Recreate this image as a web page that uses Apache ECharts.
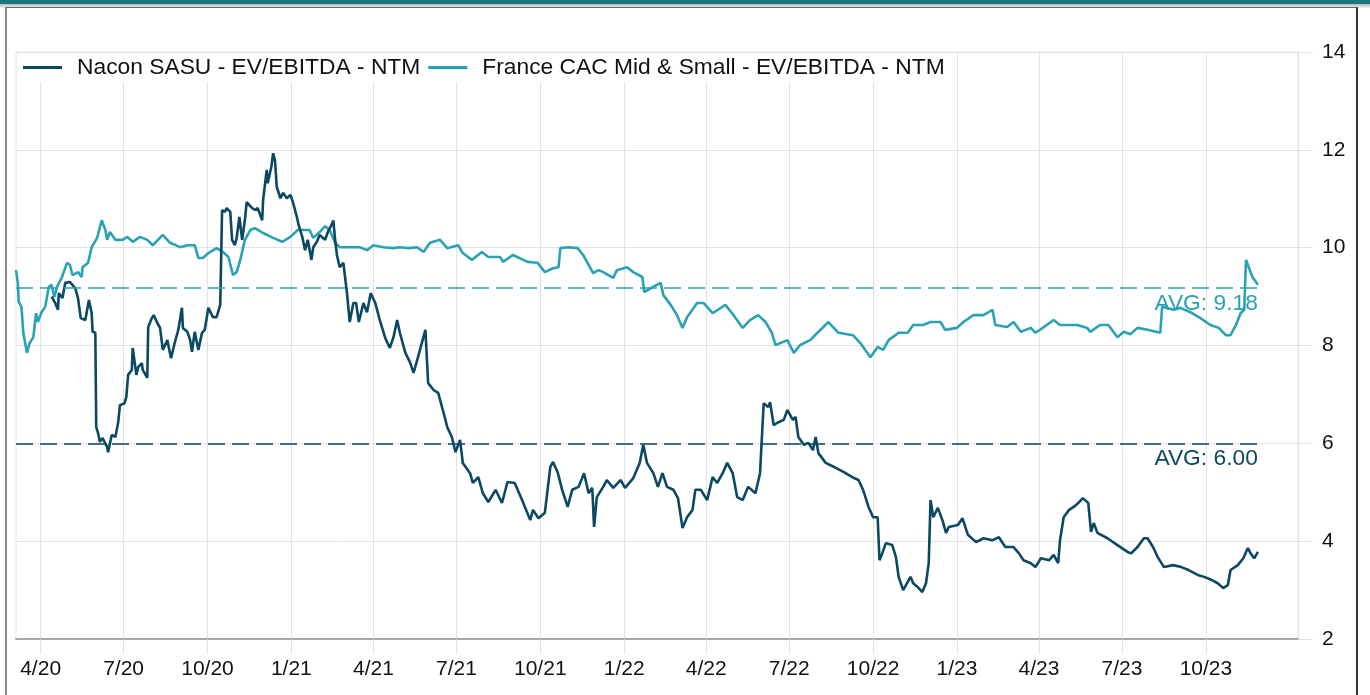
<!DOCTYPE html>
<html>
<head>
<meta charset="utf-8">
<script src="https://cdn.jsdelivr.net/npm/echarts@6/dist/echarts.min.js"></script>
<style>
  html, body { margin: 0; padding: 0; background: #ffffff; }
  #topbar { position: absolute; left: 0; top: 0; width: 1370px; height: 4px; background: #17787f; }
  #shade { position: absolute; left: 0; top: 4px; width: 1370px; height: 4px; background: linear-gradient(#b9b9b9, #efefef); }
  #panel { position: absolute; left: 5px; top: 7px; width: 1353px; height: 700px; box-sizing: border-box;
           border-left: 2px solid #8a8a8a; border-top: 1px solid #6a6a6a; border-right: 2px solid #333333; background: #ffffff; }
  #chart { position: absolute; left: 0; top: 0; width: 1370px; height: 695px; }
</style>
</head>
<body>
<div id="topbar"></div>
<div id="shade"></div>
<div id="panel"></div>
<div id="chart"></div>
<script>
// ---------- data ----------
const seriesNames = ['Nacon SASU - EV/EBITDA - NTM', 'France CAC Mid & Small - EV/EBITDA - NTM'];

const naconDates = ['2020-04-13','2020-04-17','2020-04-20','2020-04-21','2020-04-25','2020-04-28','2020-05-03','2020-05-09','2020-05-12','2020-05-15','2020-05-20','2020-05-22','2020-05-24','2020-05-27','2020-05-28','2020-05-31','2020-06-01','2020-06-03','2020-06-05','2020-06-08','2020-06-13','2020-06-14','2020-06-18','2020-06-22','2020-06-25','2020-06-27','2020-07-02','2020-07-04','2020-07-06','2020-07-10','2020-07-11','2020-07-15','2020-07-17','2020-07-21','2020-07-22','2020-07-27','2020-07-28','2020-08-01','2020-08-03','2020-08-07','2020-08-10','2020-08-13','2020-08-18','2020-08-22','2020-08-26','2020-08-30','2020-09-03','2020-09-04','2020-09-09','2020-09-12','2020-09-14','2020-09-17','2020-09-21','2020-09-25','2020-09-28','2020-10-02','2020-10-07','2020-10-11','2020-10-15','2020-10-17','2020-10-20','2020-10-22','2020-10-26','2020-10-28','2020-10-31','2020-11-02','2020-11-05','2020-11-08','2020-11-11','2020-11-13','2020-11-19','2020-11-22','2020-11-25','2020-11-30','2020-12-01','2020-12-05','2020-12-06','2020-12-10','2020-12-12','2020-12-14','2020-12-16','2020-12-20','2020-12-23','2020-12-27','2020-12-31','2021-01-03','2021-01-07','2021-01-09','2021-01-13','2021-01-16','2021-01-19','2021-01-23','2021-01-25','2021-01-29','2021-02-01','2021-02-07','2021-02-10','2021-02-15','2021-02-16','2021-02-18','2021-02-20','2021-02-23','2021-02-27','2021-03-03','2021-03-06','2021-03-10','2021-03-13','2021-03-16','2021-03-21','2021-03-25','2021-03-29','2021-04-03','2021-04-08','2021-04-14','2021-04-19','2021-04-23','2021-04-27','2021-04-30','2021-05-06','2021-05-11','2021-05-15','2021-05-19','2021-05-22','2021-05-28','2021-05-31','2021-06-06','2021-06-11','2021-06-17','2021-06-21','2021-06-26','2021-06-30','2021-07-05','2021-07-08','2021-07-16','2021-07-19','2021-07-25','2021-07-30','2021-08-05','2021-08-13','2021-08-20','2021-08-26','2021-09-03','2021-09-11','2021-09-20','2021-09-23','2021-09-29','2021-10-06','2021-10-12','2021-10-15','2021-10-20','2021-10-25','2021-10-31','2021-11-05','2021-11-12','2021-11-18','2021-11-23','2021-11-27','2021-11-29','2021-12-02','2021-12-09','2021-12-13','2021-12-20','2021-12-28','2022-01-02','2022-01-11','2022-01-18','2022-01-22','2022-01-26','2022-02-02','2022-02-07','2022-02-12','2022-02-17','2022-02-24','2022-03-01','2022-03-06','2022-03-11','2022-03-17','2022-03-20','2022-03-26','2022-04-02','2022-04-08','2022-04-13','2022-04-19','2022-04-24','2022-04-30','2022-05-05','2022-05-11','2022-05-17','2022-05-25','2022-05-30','2022-06-03','2022-06-08','2022-06-10','2022-06-14','2022-06-18','2022-06-25','2022-06-29','2022-07-05','2022-07-08','2022-07-11','2022-07-17','2022-07-22','2022-07-27','2022-07-30','2022-08-02','2022-08-10','2022-08-21','2022-08-30','2022-09-10','2022-09-15','2022-09-20','2022-09-26','2022-10-01','2022-10-06','2022-10-08','2022-10-11','2022-10-15','2022-10-22','2022-10-26','2022-10-29','2022-11-03','2022-11-08','2022-11-11','2022-11-14','2022-11-19','2022-11-24','2022-11-28','2022-12-01','2022-12-03','2022-12-06','2022-12-11','2022-12-16','2022-12-20','2022-12-23','2023-01-02','2023-01-07','2023-01-13','2023-01-22','2023-01-30','2023-02-09','2023-02-16','2023-02-23','2023-03-04','2023-03-10','2023-03-15','2023-03-23','2023-03-28','2023-04-03','2023-04-12','2023-04-17','2023-04-22','2023-04-24','2023-04-28','2023-05-04','2023-05-09','2023-05-14','2023-05-19','2023-05-25','2023-05-28','2023-05-31','2023-06-04','2023-06-15','2023-06-26','2023-07-07','2023-07-11','2023-07-18','2023-07-25','2023-07-29','2023-08-04','2023-08-09','2023-08-16','2023-08-26','2023-09-04','2023-09-12','2023-09-22','2023-09-29','2023-10-07','2023-10-14','2023-10-20','2023-10-25','2023-10-28','2023-11-05','2023-11-11','2023-11-16','2023-11-19','2023-11-23','2023-11-27'];
const naconValues = [9.0,8.87,8.73,9.07,8.97,9.28,9.3,9.17,8.97,8.56,8.52,8.56,8.93,8.66,8.28,8.26,6.33,6.21,6.03,6.11,5.92,5.82,6.17,6.13,6.42,6.78,6.82,6.95,7.4,7.5,7.95,7.4,7.56,7.64,7.5,7.34,8.38,8.56,8.62,8.46,8.36,7.91,8.11,7.74,8.05,8.32,8.77,8.36,8.28,8.11,7.87,8.28,7.91,8.26,8.32,8.77,8.58,8.58,8.83,10.77,10.73,10.81,10.73,10.16,10.05,10.2,10.63,10.16,10.56,10.93,10.81,10.77,10.81,10.56,10.97,11.59,11.32,11.65,11.93,11.79,11.24,11.01,11.12,11.01,11.08,10.91,10.63,10.46,10.22,9.95,10.16,9.75,10.01,10.12,10.26,10.16,10.32,10.5,10.56,10.16,9.85,9.6,9.69,9.07,8.48,8.87,8.87,8.48,8.87,8.68,9.07,8.87,8.52,8.15,7.95,8.17,8.52,8.26,7.85,7.66,7.44,7.7,7.91,8.32,7.23,7.09,7.03,6.62,6.33,6.13,5.82,6.07,5.6,5.39,5.19,5.31,4.98,4.8,5.05,4.78,5.21,5.19,4.84,4.43,4.64,4.47,4.58,5.52,5.62,5.41,5.05,4.7,5.05,5.11,5.39,4.98,5.09,4.29,4.9,5.11,5.25,5.09,5.25,5.09,5.29,5.6,5.97,5.6,5.39,5.11,5.39,5.11,5.05,4.88,4.27,4.49,4.64,5.05,5.05,4.84,5.31,5.19,5.39,5.6,5.39,4.9,4.84,5.11,4.98,5.39,6.82,6.74,6.84,6.37,6.42,6.48,6.68,6.48,6.54,6.13,5.97,6.01,5.86,6.13,5.8,5.6,5.5,5.41,5.29,5.25,5.05,4.7,4.49,4.49,3.61,3.75,3.96,3.92,3.68,3.27,3.0,3.17,3.27,3.14,3.06,2.96,3.14,3.55,4.84,4.49,4.68,4.43,4.17,4.29,4.33,4.47,4.13,3.98,4.06,4.02,4.08,3.88,3.88,3.75,3.61,3.55,3.47,3.65,3.61,3.72,3.55,4.02,4.49,4.64,4.7,4.78,4.88,4.78,4.19,4.37,4.17,4.06,3.92,3.78,3.75,3.88,4.06,4.06,3.88,3.68,3.47,3.51,3.47,3.41,3.31,3.27,3.21,3.14,3.04,3.1,3.41,3.51,3.65,3.86,3.75,3.65,3.78];

const cacDates = ['2020-03-05','2020-03-07','2020-03-08','2020-03-11','2020-03-13','2020-03-17','2020-03-20','2020-03-24','2020-03-27','2020-03-29','2020-04-02','2020-04-06','2020-04-10','2020-04-13','2020-04-16','2020-04-19','2020-04-24','2020-04-30','2020-05-03','2020-05-06','2020-05-12','2020-05-16','2020-05-17','2020-05-23','2020-05-27','2020-06-02','2020-06-07','2020-06-11','2020-06-13','2020-06-16','2020-06-22','2020-06-30','2020-07-05','2020-07-11','2020-07-19','2020-07-27','2020-08-02','2020-08-13','2020-08-21','2020-09-01','2020-09-09','2020-09-17','2020-09-21','2020-09-26','2020-10-02','2020-10-11','2020-10-18','2020-10-24','2020-10-29','2020-11-02','2020-11-06','2020-11-11','2020-11-17','2020-11-22','2020-12-01','2020-12-12','2020-12-22','2020-12-31','2021-01-08','2021-01-21','2021-01-25','2021-02-01','2021-02-07','2021-02-12','2021-02-18','2021-02-23','2021-03-06','2021-03-17','2021-03-25','2021-04-01','2021-04-12','2021-04-23','2021-04-30','2021-05-09','2021-05-19','2021-05-26','2021-06-02','2021-06-13','2021-06-21','2021-07-03','2021-07-08','2021-07-18','2021-07-29','2021-08-05','2021-08-18','2021-08-21','2021-09-01','2021-09-17','2021-09-28','2021-10-06','2021-10-15','2021-10-21','2021-10-23','2021-11-01','2021-11-11','2021-11-17','2021-11-23','2021-11-28','2021-12-04','2021-12-09','2021-12-20','2021-12-24','2022-01-04','2022-01-11','2022-01-21','2022-01-23','2022-01-30','2022-02-10','2022-02-13','2022-02-21','2022-02-28','2022-03-06','2022-03-11','2022-03-22','2022-03-29','2022-04-08','2022-04-22','2022-05-01','2022-05-11','2022-05-19','2022-05-28','2022-06-05','2022-06-12','2022-06-16','2022-06-29','2022-07-06','2022-07-13','2022-07-24','2022-08-01','2022-08-13','2022-08-24','2022-09-09','2022-09-17','2022-09-28','2022-10-06','2022-10-12','2022-10-18','2022-10-29','2022-11-08','2022-11-14','2022-11-25','2022-12-03','2022-12-14','2022-12-19','2023-01-01','2023-01-08','2023-01-19','2023-01-30','2023-02-09','2023-02-12','2023-02-25','2023-03-04','2023-03-12','2023-03-23','2023-03-28','2023-04-05','2023-04-17','2023-04-24','2023-05-13','2023-05-24','2023-05-27','2023-06-07','2023-06-16','2023-06-26','2023-07-03','2023-07-10','2023-07-18','2023-07-29','2023-08-12','2023-08-14','2023-08-27','2023-09-03','2023-09-14','2023-09-25','2023-10-06','2023-10-15','2023-10-23','2023-10-28','2023-11-03','2023-11-08','2023-11-12','2023-11-14','2023-11-21','2023-11-27'];
const cacValues = [9.54,9.28,8.89,8.79,8.26,7.85,8.05,8.17,8.66,8.48,8.68,8.79,9.2,9.24,8.99,9.2,9.38,9.69,9.65,9.44,9.5,9.4,9.6,9.69,10.01,10.2,10.56,10.36,10.16,10.32,10.16,10.16,10.22,10.12,10.22,10.16,10.05,10.26,10.1,10.01,10.05,10.05,9.79,9.79,9.89,9.99,9.91,9.81,9.44,9.5,9.75,10.16,10.36,10.4,10.3,10.2,10.12,10.22,10.36,10.36,10.2,10.32,10.44,10.36,10.1,10.01,10.01,10.01,9.95,10.05,10.01,9.99,10.01,9.99,10.01,9.91,10.1,10.16,9.99,10.05,9.89,9.75,9.91,9.81,9.81,9.71,9.85,9.71,9.69,9.5,9.58,9.6,9.99,10.01,9.99,9.85,9.65,9.48,9.54,9.5,9.38,9.54,9.6,9.5,9.4,9.09,9.17,9.28,9.03,8.83,8.62,8.36,8.58,8.87,8.87,8.66,8.83,8.62,8.36,8.52,8.62,8.48,8.26,8.01,8.11,7.85,8.01,8.11,8.26,8.48,8.26,8.21,8.05,7.76,7.97,7.91,8.11,8.26,8.26,8.42,8.42,8.48,8.48,8.32,8.36,8.48,8.62,8.62,8.73,8.42,8.38,8.48,8.28,8.36,8.26,8.36,8.52,8.42,8.42,8.36,8.28,8.42,8.42,8.17,8.28,8.23,8.36,8.32,8.26,8.79,8.73,8.77,8.68,8.56,8.42,8.36,8.21,8.21,8.42,8.66,8.73,9.75,9.4,9.24];

const naconAvg = 6.00;
const cacAvg = 9.18;

const quarterTicks = ['2020-04-01','2020-07-01','2020-10-01','2021-01-01','2021-04-01','2021-07-01','2021-10-01','2022-01-01','2022-04-01','2022-07-01','2022-10-01','2023-01-01','2023-04-01','2023-07-01','2023-10-01'];
const xMinDate = '2020-03-05';
const xMaxDate = '2024-01-10';
const yTicks = [2, 4, 6, 8, 10, 12, 14];

// ---------- chart ----------
function ts(s) { const p = s.split('-').map(Number); return Date.UTC(p[0], p[1] - 1, p[2]); }
const NAVY = '#0b4862';
const TEAL = '#2aa2b3';
const GRID = '#e2e2e2';
const FONT = "'Liberation Sans', Arial, Helvetica, sans-serif";

function avgMarkLine(avg, dates, color) {
  return {
    silent: true,
    symbol: ['none', 'none'],
    lineStyle: { color: color, width: 1.5, type: [17, 7] },
    label: {
      show: true, position: 'insideEndBottom', distance: [0, 4],
      formatter: 'AVG: ' + avg.toFixed(2),
      color: color, fontSize: 22.8, fontFamily: FONT
    },
    data: [[{ coord: [ts(dates[0]), avg] }, { coord: [ts(dates[dates.length - 1]), avg] }]]
  };
}

const chart = echarts.init(document.getElementById('chart'), null, { renderer: 'canvas' });
chart.setOption({
  animation: false,
  backgroundColor: 'transparent',
  textStyle: { fontFamily: FONT },
  grid: { left: 16, right: 72, top: 52, bottom: 56, show: true, borderColor: GRID, borderWidth: 1, backgroundColor: 'transparent' },
  legend: {
    left: 17, top: 53, padding: [3, 6, 3, 6],
    backgroundColor: '#ffffff',
    icon: 'rect',
    itemWidth: 39, itemHeight: 3, itemGap: 8,
    textStyle: { fontSize: 22.8, color: '#111111', fontFamily: FONT, padding: [0, 0, 0, 10] },
    data: seriesNames
  },
  xAxis: {
    type: 'value',
    min: ts(xMinDate), max: ts(xMaxDate),
    axisLine: { show: true, lineStyle: { color: '#a8a8a8', width: 2 } },
    axisTick: { show: true, length: 15, lineStyle: { color: GRID, width: 1 }, customValues: quarterTicks.map(ts) },
    axisLabel: {
      customValues: quarterTicks.map(ts), margin: 20,
      fontSize: 21, color: '#111111', fontFamily: FONT,
      formatter: function (v) { const d = new Date(v); return (d.getUTCMonth() + 1) + '/' + String(d.getUTCFullYear()).slice(2); }
    },
    splitLine: { show: true, lineStyle: { color: GRID, width: 1 } }
  },
  yAxis: {
    type: 'value', position: 'right',
    min: yTicks[0], max: yTicks[yTicks.length - 1], interval: 2,
    axisLine: { show: true, lineStyle: { color: GRID } },
    axisTick: { show: true, length: 15, lineStyle: { color: GRID } },
    axisLabel: { margin: 24, align: 'left', fontSize: 21, color: '#111111', fontFamily: FONT },
    splitLine: { show: true, lineStyle: { color: GRID, width: 1 } }
  },
  series: [
    {
      name: seriesNames[0], type: 'line', z: 4, showSymbol: false, symbol: 'none',
      lineStyle: { color: NAVY, width: 2.6 }, itemStyle: { color: NAVY },
      data: naconDates.map((d, i) => [ts(d), naconValues[i]]),
      markLine: avgMarkLine(naconAvg, cacDates, NAVY)
    },
    {
      name: seriesNames[1], type: 'line', z: 3, showSymbol: false, symbol: 'none',
      lineStyle: { color: TEAL, width: 2.6 }, itemStyle: { color: TEAL },
      data: cacDates.map((d, i) => [ts(d), cacValues[i]]),
      markLine: avgMarkLine(cacAvg, cacDates, TEAL)
    }
  ]
});
</script>
</body>
</html>
